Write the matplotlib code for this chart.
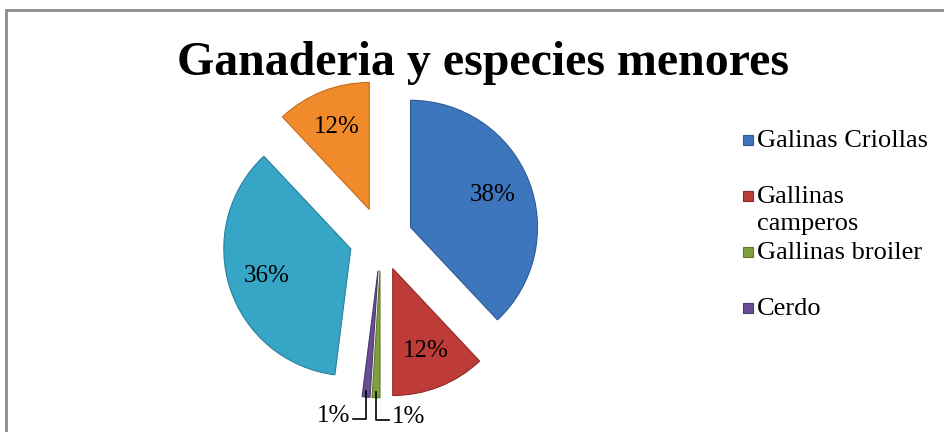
import textwrap
import numpy as np
import matplotlib.pyplot as plt
from matplotlib.patches import Rectangle

plt.rcParams['font.family'] = ['Liberation Serif', 'DejaVu Serif']

# slice values (percent), clockwise from 12 o'clock
values = [38, 12, 1, 1, 36, 12]
colors = ['#3E76BE', '#BE3C38', '#7FA03C', '#6A4E94', '#37A6C6', '#F08A2A']
edges = ['#2D5A96', '#8E2A27', '#5E7A2A', '#4C3770', '#27809A', '#C46C1C']
# only the first four entries are visible in the legend
legend_labels = ['Galinas Criollas', 'Gallinas camperos', 'Gallinas broiler', 'Cerdo']
title = 'Ganaderia y especies menores'

W, H = 945, 432
fig = plt.figure(figsize=(W / 100, H / 100), dpi=100)
ax = fig.add_axes([0, 0, 1, 1])

# chart frame (only top and left edges are inside the picture)
ax.add_patch(Rectangle((6, -20), W + 40, H - 10 + 20, fill=False,
                       edgecolor='#8C8C8C', linewidth=2))

R = 127
cx, cy = 381, 193
wedges, texts, autotexts = ax.pie(
    values, colors=colors, startangle=90, counterclock=False,
    explode=[0.25 * R] * len(values), radius=R, center=(cx, cy),
    autopct=lambda p: '%d%%' % round(p) if p > 5 else '', pctdistance=0.7,
    textprops=dict(fontsize=18, color='black'),
    wedgeprops=dict(linewidth=0.8), frame=True)
ax.axis('off')
ax.set_xlim(0, W)
ax.set_ylim(0, H)
ax.set_aspect('equal')
for w, ec in zip(wedges, edges):
    w.set_edgecolor(ec)

# small slices: labels outside with elbow leader lines
for w, v, side in [(wedges[3], values[3], -1), (wedges[2], values[2], 1)]:
    th = np.deg2rad((w.theta1 + w.theta2) / 2)
    tx = w.center[0] + w.r * np.cos(th)
    ty = w.center[1] + w.r * np.sin(th) + 6
    ylow = ty - 28
    ax.plot([tx, tx, tx + side * 13], [ty, ylow, ylow], color='black', lw=1.2)
    ax.text(tx + side * 16, ylow + 3, '%d%%' % v, fontsize=18,
            ha='left' if side > 0 else 'right', va='center')

ax.text(483, H - 75, title, fontsize=34.5, fontweight='bold',
        ha='center', va='baseline')

# legend
for i, lab in enumerate(legend_labels):
    y = H - (140 + 56 * i)
    ax.add_patch(Rectangle((743, y - 5), 10, 10, facecolor=colors[i],
                           edgecolor=edges[i], linewidth=0.8))
    ax.text(757, y + 10, textwrap.fill(lab, 16), fontsize=19, ha='left',
            va='top', linespacing=1.27)

fig.savefig('out.png', dpi=100)
